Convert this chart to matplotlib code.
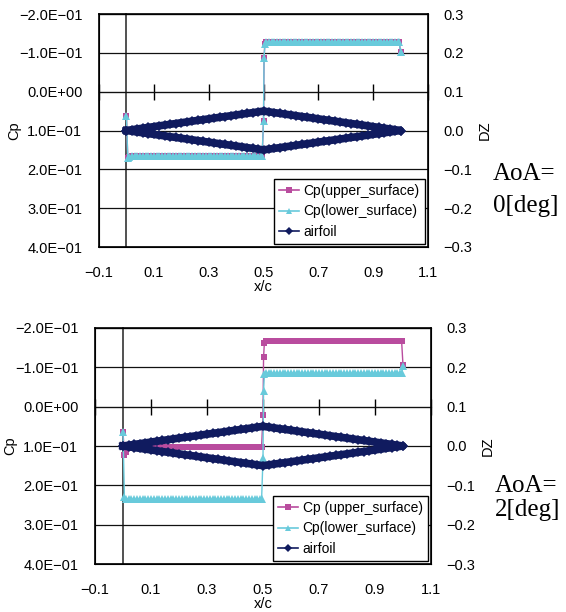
import matplotlib
matplotlib.use("Agg")
import matplotlib.pyplot as plt
from matplotlib.ticker import FuncFormatter

plt.rcParams['font.family'] = ['Liberation Sans', 'Noto Sans CJK JP']
plt.rcParams['font.size'] = 10.5

# chordwise stations for the pressure data
x_cp = [0.000, 0.005, 0.010,
        0.02, 0.03, 0.04, 0.05, 0.06, 0.07, 0.08, 0.09, 0.10, 0.11, 0.12, 0.13,
        0.14, 0.15, 0.16, 0.17, 0.18, 0.19, 0.20, 0.21, 0.22, 0.23, 0.24, 0.25,
        0.26, 0.27, 0.28, 0.29, 0.30, 0.31, 0.32, 0.33, 0.34, 0.35, 0.36, 0.37,
        0.38, 0.39, 0.40, 0.41, 0.42, 0.43, 0.44, 0.45, 0.46, 0.47, 0.48, 0.49,
        0.495, 0.500, 0.502, 0.505,
        0.51, 0.52, 0.53, 0.54, 0.55, 0.56, 0.57, 0.58, 0.59, 0.60, 0.61, 0.62,
        0.63, 0.64, 0.65, 0.66, 0.67, 0.68, 0.69, 0.70, 0.71, 0.72, 0.73, 0.74,
        0.75, 0.76, 0.77, 0.78, 0.79, 0.80, 0.81, 0.82, 0.83, 0.84, 0.85, 0.86,
        0.87, 0.88, 0.89, 0.90, 0.91, 0.92, 0.93, 0.94, 0.95, 0.96, 0.97, 0.98,
        0.99,
        0.995, 1.000]

# AoA = 0 deg
cp_up_0 = [0.062, 0.172, 0.168,
           0.166, 0.166, 0.166, 0.166, 0.166, 0.166, 0.166, 0.166, 0.166, 0.166, 0.166, 0.166,
           0.166, 0.166, 0.166, 0.166, 0.166, 0.166, 0.166, 0.166, 0.166, 0.166, 0.166, 0.166,
           0.166, 0.166, 0.166, 0.166, 0.166, 0.166, 0.166, 0.166, 0.166, 0.166, 0.166, 0.166,
           0.166, 0.166, 0.166, 0.166, 0.166, 0.166, 0.166, 0.166, 0.166, 0.166, 0.166, 0.166,
           0.166, 0.075, -0.086, -0.124,
           -0.128, -0.128, -0.128, -0.128, -0.128, -0.128, -0.128, -0.128, -0.128, -0.128, -0.128, -0.128,
           -0.128, -0.128, -0.128, -0.128, -0.128, -0.128, -0.128, -0.128, -0.128, -0.128, -0.128, -0.128,
           -0.128, -0.128, -0.128, -0.128, -0.128, -0.128, -0.128, -0.128, -0.128, -0.128, -0.128, -0.128,
           -0.128, -0.128, -0.128, -0.128, -0.128, -0.128, -0.128, -0.128, -0.128, -0.128, -0.128, -0.128,
           -0.128,
           -0.128, -0.102]
cp_lo_0 = [0.062, 0.172, 0.168,
           0.166, 0.166, 0.166, 0.166, 0.166, 0.166, 0.166, 0.166, 0.166, 0.166, 0.166, 0.166,
           0.166, 0.166, 0.166, 0.166, 0.166, 0.166, 0.166, 0.166, 0.166, 0.166, 0.166, 0.166,
           0.166, 0.166, 0.166, 0.166, 0.166, 0.166, 0.166, 0.166, 0.166, 0.166, 0.166, 0.166,
           0.166, 0.166, 0.166, 0.166, 0.166, 0.166, 0.166, 0.166, 0.166, 0.166, 0.166, 0.166,
           0.166, 0.075, -0.086, -0.124,
           -0.128, -0.128, -0.128, -0.128, -0.128, -0.128, -0.128, -0.128, -0.128, -0.128, -0.128, -0.128,
           -0.128, -0.128, -0.128, -0.128, -0.128, -0.128, -0.128, -0.128, -0.128, -0.128, -0.128, -0.128,
           -0.128, -0.128, -0.128, -0.128, -0.128, -0.128, -0.128, -0.128, -0.128, -0.128, -0.128, -0.128,
           -0.128, -0.128, -0.128, -0.128, -0.128, -0.128, -0.128, -0.128, -0.128, -0.128, -0.128, -0.128,
           -0.128,
           -0.128, -0.102]

# AoA = 2 deg
cp_up_2 = [0.064, 0.123, 0.115,
           0.104, 0.102, 0.102, 0.102, 0.102, 0.102, 0.102, 0.102, 0.102, 0.102, 0.102, 0.102,
           0.102, 0.102, 0.102, 0.102, 0.102, 0.102, 0.102, 0.102, 0.102, 0.102, 0.102, 0.102,
           0.102, 0.102, 0.102, 0.102, 0.102, 0.102, 0.102, 0.102, 0.102, 0.102, 0.102, 0.102,
           0.102, 0.102, 0.102, 0.102, 0.102, 0.102, 0.102, 0.102, 0.102, 0.102, 0.102, 0.102,
           0.102, 0.021, -0.126, -0.163,
           -0.167, -0.167, -0.167, -0.167, -0.167, -0.167, -0.167, -0.167, -0.167, -0.167, -0.167, -0.167,
           -0.167, -0.167, -0.167, -0.167, -0.167, -0.167, -0.167, -0.167, -0.167, -0.167, -0.167, -0.167,
           -0.167, -0.167, -0.167, -0.167, -0.167, -0.167, -0.167, -0.167, -0.167, -0.167, -0.167, -0.167,
           -0.167, -0.167, -0.167, -0.167, -0.167, -0.167, -0.167, -0.167, -0.167, -0.167, -0.167, -0.167,
           -0.167,
           -0.167, -0.105]
cp_lo_2 = [0.064, 0.229, 0.236,
           0.235, 0.235, 0.235, 0.235, 0.235, 0.235, 0.235, 0.235, 0.235, 0.235, 0.235, 0.235,
           0.235, 0.235, 0.235, 0.235, 0.235, 0.235, 0.235, 0.235, 0.235, 0.235, 0.235, 0.235,
           0.235, 0.235, 0.235, 0.235, 0.235, 0.235, 0.235, 0.235, 0.235, 0.235, 0.235, 0.235,
           0.235, 0.235, 0.235, 0.235, 0.235, 0.235, 0.235, 0.235, 0.235, 0.235, 0.235, 0.235,
           0.235, 0.131, -0.040, -0.082,
           -0.085, -0.085, -0.085, -0.085, -0.085, -0.085, -0.085, -0.085, -0.085, -0.085, -0.085, -0.085,
           -0.085, -0.085, -0.085, -0.085, -0.085, -0.085, -0.085, -0.085, -0.085, -0.085, -0.085, -0.085,
           -0.085, -0.085, -0.085, -0.085, -0.085, -0.085, -0.085, -0.085, -0.085, -0.085, -0.085, -0.085,
           -0.085, -0.085, -0.085, -0.085, -0.085, -0.085, -0.085, -0.085, -0.085, -0.085, -0.085, -0.085,
           -0.085,
           -0.085, -0.104]

# diamond airfoil geometry
x_af = [0.00, 0.02, 0.04, 0.06, 0.08, 0.10, 0.12, 0.14, 0.16, 0.18, 0.20, 0.22, 0.24,
        0.26, 0.28, 0.30, 0.32, 0.34, 0.36, 0.38, 0.40, 0.42, 0.44, 0.46, 0.48, 0.50,
        0.52, 0.54, 0.56, 0.58, 0.60, 0.62, 0.64, 0.66, 0.68, 0.70, 0.72, 0.74, 0.76,
        0.78, 0.80, 0.82, 0.84, 0.86, 0.88, 0.90, 0.92, 0.94, 0.96, 0.98, 1.00]
dz_up = [0.000, 0.002, 0.004, 0.006, 0.008, 0.010, 0.012, 0.014, 0.016, 0.018, 0.020, 0.022, 0.024,
         0.026, 0.028, 0.030, 0.032, 0.034, 0.036, 0.038, 0.040, 0.042, 0.044, 0.046, 0.048, 0.050,
         0.048, 0.046, 0.044, 0.042, 0.040, 0.038, 0.036, 0.034, 0.032, 0.030, 0.028, 0.026, 0.024,
         0.022, 0.020, 0.018, 0.016, 0.014, 0.012, 0.010, 0.008, 0.006, 0.004, 0.002, 0.000]
dz_lo = [-0.000, -0.002, -0.004, -0.006, -0.008, -0.010, -0.012, -0.014, -0.016, -0.018, -0.020, -0.022, -0.024,
         -0.026, -0.028, -0.030, -0.032, -0.034, -0.036, -0.038, -0.040, -0.042, -0.044, -0.046, -0.048, -0.050,
         -0.048, -0.046, -0.044, -0.042, -0.040, -0.038, -0.036, -0.034, -0.032, -0.030, -0.028, -0.026, -0.024,
         -0.022, -0.020, -0.018, -0.016, -0.014, -0.012, -0.010, -0.008, -0.006, -0.004, -0.002, -0.000]

x_ticks = [-0.1, 0.1, 0.3, 0.5, 0.7, 0.9, 1.1]
cp_ticks = [-0.2, -0.1, 0.0, 0.1, 0.2, 0.3, 0.4]
dz_ticks = [-0.3, -0.2, -0.1, 0.0, 0.1, 0.2, 0.3]

c_up = '#B94C9E'
c_lo = '#68CADB'
c_af = '#101B5F'


def sci_fmt(v, pos):
    return f"{v + 0.0:.1E}".replace('-', '\u2212')


def dec_fmt(v, pos):
    return f"{round(v, 3) + 0.0:.1f}".replace('-', '\u2212')


def make_panel(fig, rect, cp_up, cp_lo, up_label, aoa_text, aoa_xy):
    ax = fig.add_axes(rect)
    ax.set_xlim(-0.1, 1.1)
    ax.set_ylim(0.4, -0.2)
    ax.set_xticks(x_ticks)
    ax.set_yticks(cp_ticks)
    ax.xaxis.set_major_formatter(FuncFormatter(dec_fmt))
    ax.yaxis.set_major_formatter(FuncFormatter(sci_fmt))
    ax.tick_params(axis='x', length=0, pad=14)
    ax.tick_params(axis='y', length=0, pad=12)
    ax.grid(axis='y', color='#111111', lw=0.9)
    ax.set_axisbelow(True)
    for s in ax.spines.values():
        s.set_linewidth(1.2)
        s.set_color('black')

    # horizontal axis crossing at Cp = 0, vertical axis crossing at x = 0
    y0, y1 = ax.get_ylim()
    xax = ax.secondary_xaxis((y0 - 0.0) / (y0 - y1))
    xax.set_xticks(x_ticks)
    xax.tick_params(direction='inout', length=11, width=1, labelbottom=False, labeltop=False)
    xax.spines['bottom'].set_linewidth(1)
    x0, x1 = ax.get_xlim()
    yax = ax.secondary_yaxis((0.0 - x0) / (x1 - x0))
    yax.set_yticks([])
    yax.spines['left'].set_linewidth(1.2)
    yax.spines['left'].set_color('#333333')

    h1, = ax.plot(x_cp, cp_up, color=c_up, marker='s', ms=5, mew=0, lw=1,
                  label=up_label)
    h2, = ax.plot(x_cp, cp_lo, color=c_lo, marker='^', ms=5.4, mew=0, lw=1,
                  label='Cp(lower_surface)')

    ax2 = ax.twinx()
    ax2.set_ylim(-0.3, 0.3)
    ax2.set_yticks(dz_ticks)
    ax2.yaxis.set_major_formatter(FuncFormatter(dec_fmt))
    ax2.tick_params(axis='y', length=0, pad=11)
    ax2.plot(x_af + x_af[::-1], dz_up + dz_lo[::-1], color=c_af, marker='D',
             ms=4.6, mew=0, lw=5.5)
    # legend entry keeps a thin line like the marker key
    h3, = ax2.plot([], [], color=c_af, marker='D', ms=4.2, mew=0, lw=1.5, label='airfoil')

    ax.set_xlabel('x/c', labelpad=0)
    ax.set_ylabel('Cp', labelpad=-2)
    ax2.set_ylabel('DZ', rotation=90, labelpad=4)

    leg = ax2.legend(handles=[h1, h2, h3], loc='lower right', fontsize=10,
                     frameon=True, fancybox=False, framealpha=1, edgecolor='black',
                     borderaxespad=0.25, borderpad=0.35, labelspacing=0.45,
                     handlelength=1.5, handletextpad=0.3)
    leg.get_frame().set_linewidth(1)
    for ln in leg.get_lines():
        ln.set_markersize(4.2)
        ln.set_linewidth(1.2)

    for (tx, ty), s in zip(aoa_xy, aoa_text):
        fig.text(tx / 566, 1 - ty / 612, s, family='Liberation Serif', fontsize=18,
                 va='baseline', ha='left')
    return ax


fig = plt.figure(figsize=(5.66, 6.12), dpi=100)

make_panel(fig, [99 / 566, 1 - 247 / 612, 329 / 566, 233 / 612],
           cp_up_0, cp_lo_0, 'Cp(upper_surface)',
           ['AoA=', '0[deg]'], [(493, 180), (493, 212)])
make_panel(fig, [95 / 566, 1 - 564 / 612, 336 / 566, 236 / 612],
           cp_up_2, cp_lo_2, 'Cp (upper_surface)',
           ['AoA=', '2[deg]'], [(495, 492), (495, 516)])

fig.savefig('out.png', dpi=100)
